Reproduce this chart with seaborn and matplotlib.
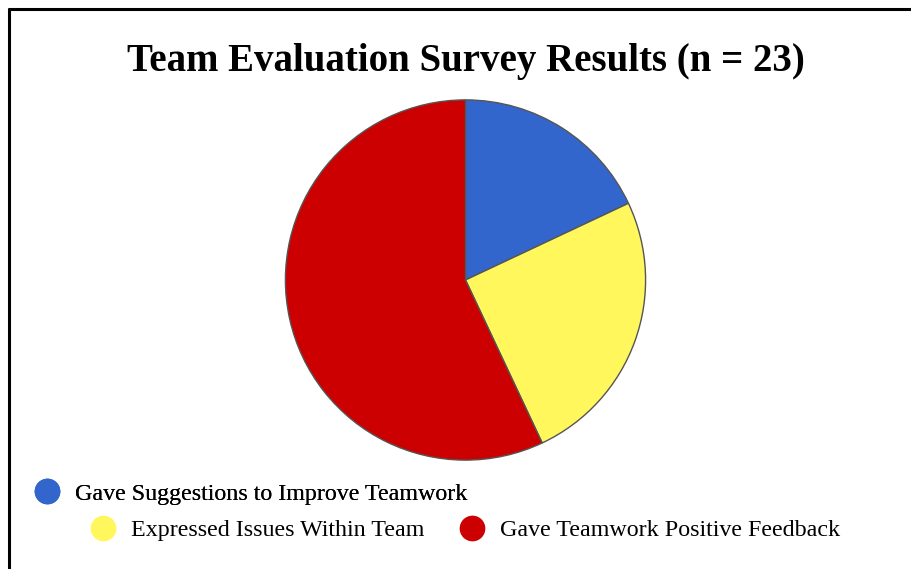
import matplotlib
matplotlib.use('Agg')
import matplotlib.pyplot as plt
import seaborn as sns
from matplotlib.lines import Line2D

categories = ['Gave Suggestions to Improve Teamwork',
              'Expressed Issues Within Team',
              'Gave Teamwork Positive Feedback']
# slice shares (percent)
shares = [18, 25, 57]
colors = ['#3366CC', '#FFF75C', '#CC0000']
title = 'Team Evaluation Survey Results (n = 23)'

sns.set_theme(style='white')
plt.rcParams['font.family'] = ['Liberation Serif', 'DejaVu Serif']
plt.rcParams['text.color'] = 'black'
plt.rcParams['legend.labelcolor'] = 'black'

fig = plt.figure(figsize=(9.11, 5.69), dpi=100)
fig.patch.set_facecolor('white')

# frame lines on top and left, like the original screenshot
fig.add_artist(Line2D([9 / 911, 1], [1 - 9 / 569, 1 - 9 / 569], color='black', lw=2.2,
                      transform=fig.transFigure))
fig.add_artist(Line2D([9 / 911, 9 / 911], [0, 1 - 9 / 569], color='black', lw=2.2,
                      transform=fig.transFigure))

ax = fig.add_axes([(465.5 - 181) / 911, 108 / 569, 362 / 911, 362 / 569])
ax.pie(shares, colors=colors, startangle=90, counterclock=False, radius=1,
       wedgeprops={'edgecolor': '#555555', 'linewidth': 1.0})
ax.set_xlim(-1.005, 1.005)
ax.set_ylim(-1.005, 1.005)
ax.set_aspect('equal')
ax.axis('off')

fig.text(466 / 911, 1 - 61 / 569, title, ha='center', va='center',
         fontsize=28, fontweight='bold', color='black')

handles = [Line2D([], [], marker='o', linestyle='none', markersize=17.5,
                  markerfacecolor=c, markeredgecolor=c) for c in colors]

leg_kw = dict(loc='center left', frameon=False, fontsize=17.3, handletextpad=0.66,
              handlelength=1.0, borderpad=0, borderaxespad=0)
leg1 = fig.legend(handles[:1], categories[:1],
                  bbox_to_anchor=(35 / 911, 1 - 494 / 569), **leg_kw)
fig.legend(handles[1:], categories[1:], ncol=2, columnspacing=1.48,
           bbox_to_anchor=(91 / 911, 1 - 530 / 569), **leg_kw)
fig.add_artist(leg1)

fig.savefig('out.png', dpi=100)
